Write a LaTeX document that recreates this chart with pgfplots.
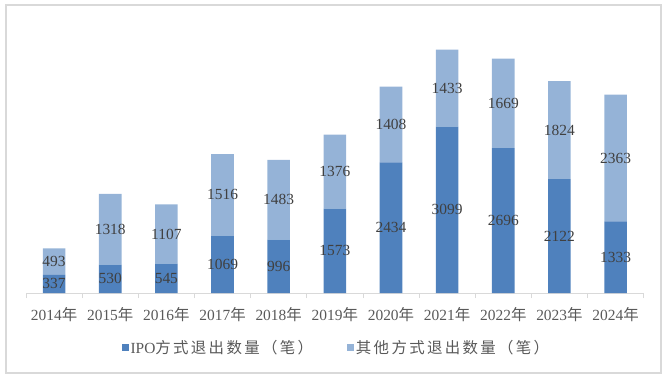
\documentclass[border=0pt]{standalone}
\usepackage{fontspec}
\setmainfont{Liberation Serif}
\newfontfamily\cjk{Noto Sans CJK SC}
\newfontfamily\cjkl[LetterSpace=15]{Noto Sans CJK SC}
\usepackage{pgfplots}
\usepackage{pgfplotstable}
\pgfplotsset{compat=1.18}
\definecolor{ipo}{HTML}{4F81BD}
\definecolor{oth}{HTML}{95B3D7}
\definecolor{lab}{HTML}{404040}
\definecolor{tlab}{HTML}{595959}
\definecolor{axl}{HTML}{D9D9D9}
\pgfplotstableread{
x ipo other
0 337 493
1 530 1318
2 545 1107
3 1069 1516
4 996 1483
5 1573 1376
6 2434 1408
7 3099 1433
8 2696 1669
9 2122 1824
10 1333 2363
}\data
\pgfplotsset{common/.style={
  at={(26bp,84bp)}, anchor=south west,
  scale only axis, width=617.65bp, height=268.5bp,
  xmin=-0.5, xmax=10.5, ymin=0, ymax=5000}}
\begin{document}
\begin{tikzpicture}[x=1bp,y=1bp]
\useasboundingbox (0,0) rectangle (670,377);
\draw[axl, line width=1.5bp] (6,4) rectangle (661,372);
\begin{axis}[common,
  ybar stacked, bar width=22.6bp,
  axis y line=none, axis x line*=bottom,
  x axis line style={draw=axl, line width=0.8bp},
  xtick={0,...,10},
  xticklabels={2014{\cjk 年},2015{\cjk 年},2016{\cjk 年},2017{\cjk 年},2018{\cjk 年},2019{\cjk 年},2020{\cjk 年},2021{\cjk 年},2022{\cjk 年},2023{\cjk 年},2024{\cjk 年}},
  major x tick style={draw=none},
  minor xtick={-0.5,0.5,...,10.5},
  minor x tick style={draw=axl, line width=0.8bp},
  minor tick length=5bp,
  tick align=outside,
  xticklabel style={font=\fontsize{15.5}{18}\selectfont, text=tlab, anchor=center, yshift=-17bp},
  legend style={at={(0.5024,-0.204)}, anchor=center, draw=none, fill=none, legend columns=2,
    font=\fontsize{15.5}{18}\selectfont, text=tlab,
    /tikz/every even column/.append style={column sep=32bp}},
  legend image code/.code={\fill[#1] (0bp,-3.5bp) rectangle (7bp,3.5bp);},
]
\addplot[fill=ipo, draw=none] table[x=x, y=ipo]{\data};
\addlegendentry{IPO{\cjkl 方式退出数量（笔）}}
\addplot[fill=oth, draw=none] table[x=x, y=other]{\data};
\addlegendentry{{\cjkl 其他方式退出数量（笔）}}
\end{axis}
\begin{axis}[common, hide axis,
  nodes near coords, point meta=explicit symbolic,
  nodes near coords style={anchor=center, inner sep=0pt, font=\fontsize{15.5}{18}\selectfont, text=lab}]
\addplot[only marks, mark=none] table[x=x, y expr=\thisrow{ipo}/2, meta=ipo]{\data};
\addplot[only marks, mark=none] table[x=x, y expr=\thisrow{ipo}+\thisrow{other}/2, meta=other]{\data};
\end{axis}
\end{tikzpicture}
\end{document}
